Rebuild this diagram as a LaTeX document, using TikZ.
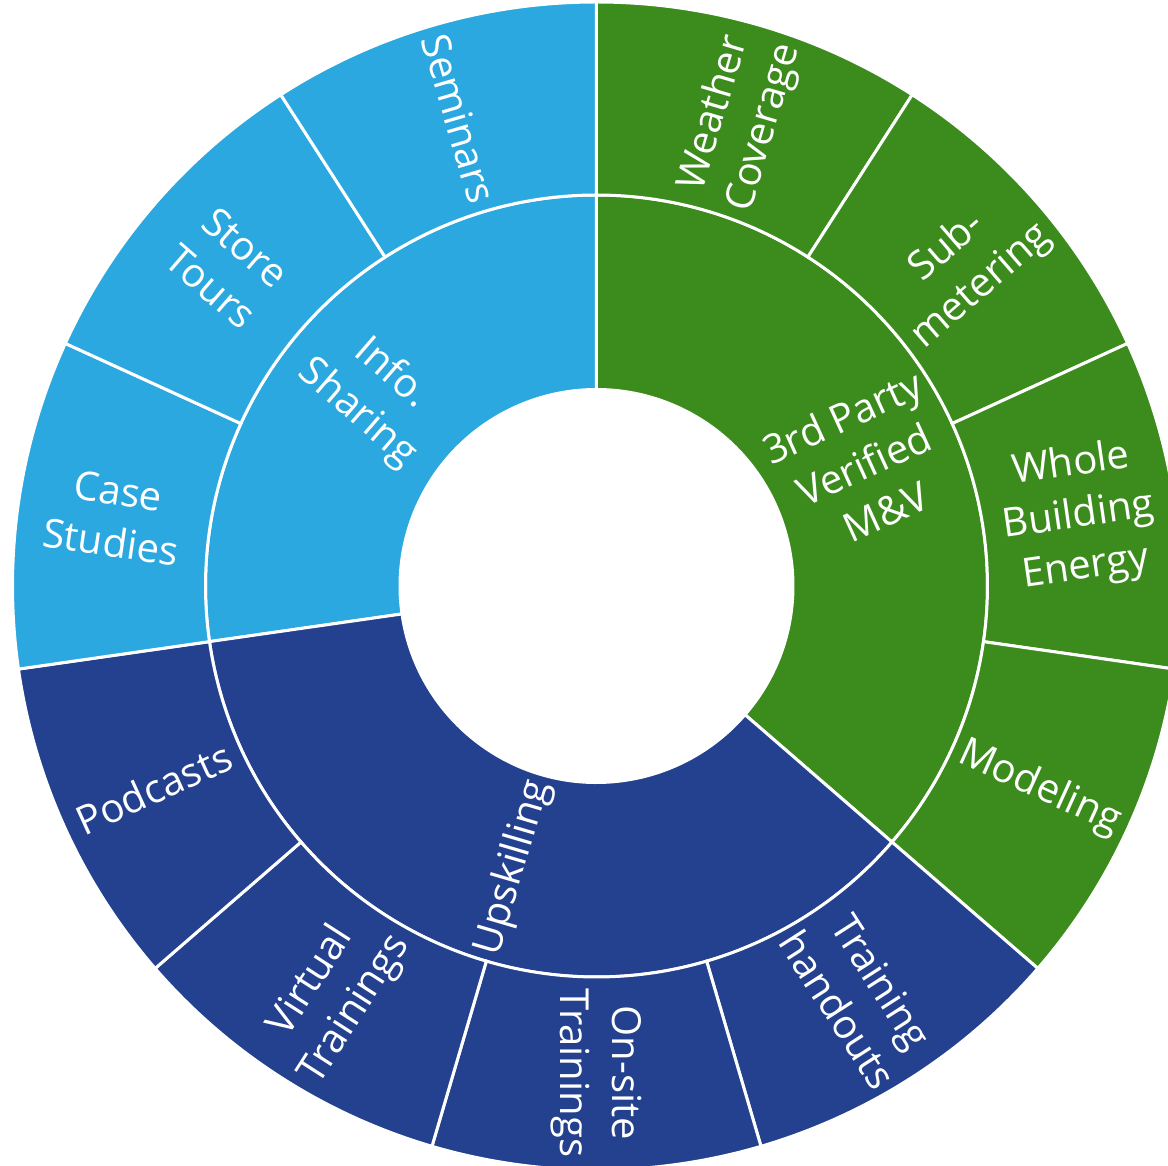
\documentclass[tikz,border=0pt]{standalone}
\usepackage{fontspec}
\setmainfont{Open Sans}
\definecolor{cgreen}{RGB}{59,140,29}
\definecolor{clight}{RGB}{43,168,224}
\definecolor{cdark}{RGB}{35,65,142}
% annular sector: colour, inner r, outer r, start angle, end angle (all radii in pt)
\newcommand\annsect[5]{%
  \fill[#1, draw=white, line width=3pt, line join=miter]
    (#4:#2pt) arc[start angle=#4, end angle=#5, radius=#2pt]
    -- (#5:#3pt) arc[start angle=#5, end angle=#4, radius=#3pt] -- cycle;}
\begin{document}
\begin{tikzpicture}[
  lbl/.style={text=white, align=center, inner sep=0pt, font=\fontsize{40}{52}\selectfont},
  ilbl/.style={lbl}]
\useasboundingbox (-596.5pt,-580pt) rectangle (571.5pt,586pt);
\clip (-596.5pt,-580pt) rectangle (571.5pt,586pt);
\def\ra{196.5}\def\rb{391}\def\rc{584}
% inner ring
\annsect{cgreen}{\ra}{\rb}{-40.9091}{90}
\annsect{clight}{\ra}{\rb}{90}{188.1818}
\annsect{cdark}{\ra}{\rb}{188.1818}{319.0909}
% outer ring
\annsect{cgreen}{\rb}{\rc}{57.2727}{90}
\annsect{cgreen}{\rb}{\rc}{24.5455}{57.2727}
\annsect{cgreen}{\rb}{\rc}{-8.1818}{24.5455}
\annsect{cgreen}{\rb}{\rc}{-40.9091}{-8.1818}
\annsect{cdark}{\rb}{\rc}{-73.6364}{-40.9091}
\annsect{cdark}{\rb}{\rc}{-106.3636}{-73.6364}
\annsect{cdark}{\rb}{\rc}{-139.0909}{-106.3636}
\annsect{cdark}{\rb}{\rc}{-171.8182}{-139.0909}
\annsect{clight}{\rb}{\rc}{155.4545}{188.1818}
\annsect{clight}{\rb}{\rc}{122.7273}{155.4545}
\annsect{clight}{\rb}{\rc}{90}{122.7273}
% inner labels
\node[ilbl, rotate=24.5455] (mv) at (24.5455:294pt) {3rd Party\\Verified\\M\&V};
\node[ilbl, rotate=-40.9091] (info) at (139.0909:294pt) {Info.\\Sharing};
\node[ilbl, rotate=73.6364] (up) at (-106.3636:294pt) {Upskilling};
% outer labels
\node[lbl, rotate=73.6364] (weather) at (72.9:487pt) {Weather\\Coverage};
\node[lbl, rotate=40.9091] (sub) at (40.9091:487pt) {Sub-\\metering};
\node[lbl, rotate=8.1818] (whole) at (8.1818:487pt) {Whole\\Building\\Energy};
\node[lbl, rotate=-24.5455] (model) at (-24.5455:487pt) {Modeling};
\node[lbl, rotate=-57.2727] (hand) at (-57.2727:487pt) {Training\\handouts};
\node[lbl, rotate=-90] (onsite) at (-90:487pt) {On-site\\Trainings};
\node[lbl, rotate=57.2727] (virtual) at (-122.7273:487pt) {Virtual\\Trainings};
\node[lbl, rotate=24.5455] (pod) at (-155.4545:487pt) {Podcasts};
\node[lbl, rotate=-8.1818] (case) at (171.8182:487pt) {Case\\Studies};
\node[lbl, rotate=-40.9091] (store) at (139.0909:487pt) {Store\\Tours};
\node[lbl, rotate=-73.6364] (sem) at (106.3636:487pt) {Seminars};
\end{tikzpicture}
\end{document}
